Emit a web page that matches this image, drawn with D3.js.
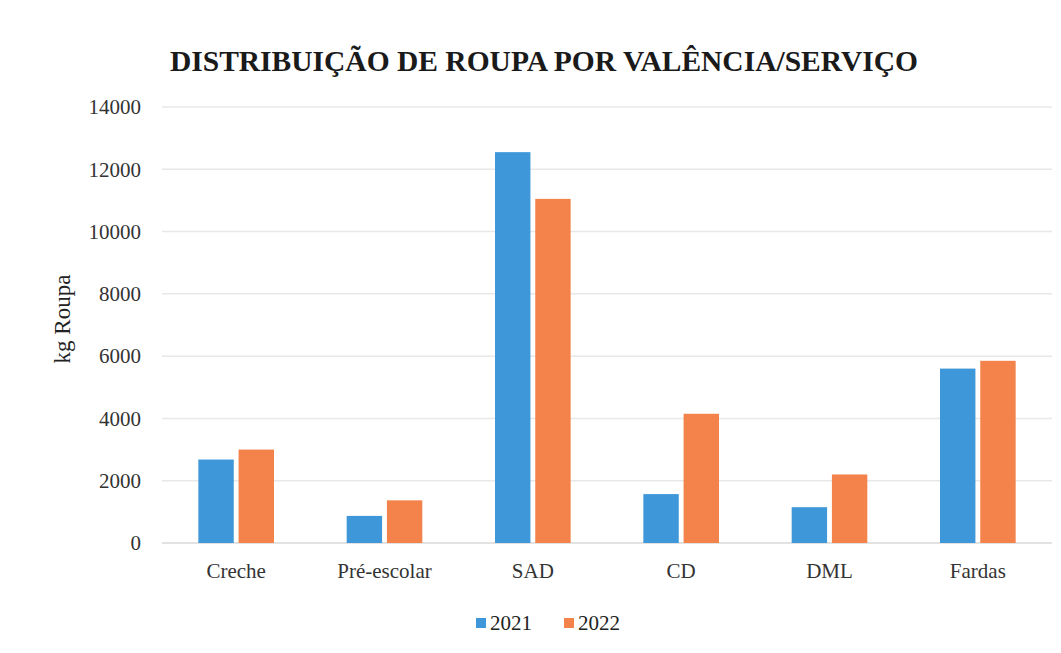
<!DOCTYPE html>
<html>
<head>
<meta charset="utf-8">
<script src="https://cdn.jsdelivr.net/npm/d3@7"></script>
<style>
  body { margin: 0; background: #fff; }
</style>
</head>
<body>
<div id="chart"></div>
<script>
const categories = ['Creche', 'Pré-escolar', 'SAD', 'CD', 'DML', 'Fardas']
const seriesNames = ['2021', '2022']
const values2021 = [2680, 870, 12550, 1570, 1150, 5600]
const values2022 = [3000, 1370, 11050, 4150, 2200, 5850]
const yTicks = [0, 2000, 4000, 6000, 8000, 10000, 12000, 14000]

const serif = "'Liberation Serif', 'DejaVu Serif', serif"
const width = 1061, height = 653
const margin = { top: 107, right: 9, bottom: 110, left: 162 }
const color = d3.scaleOrdinal().domain(seriesNames).range(['#3d97d8', '#f4834b'])

const svg = d3.select('#chart').append('svg')
  .attr('width', width)
  .attr('height', height)
  .style('font-family', serif)

const x = d3.scaleBand()
  .domain(categories)
  .range([margin.left, width - margin.right])
  .paddingInner(0.49)
  .paddingOuter(0.245)

const x1 = d3.scaleBand()
  .domain(seriesNames)
  .range([0, x.bandwidth()])
  .paddingInner(0.12)

const y = d3.scaleLinear()
  .domain([0, 14000])
  .range([height - margin.bottom, margin.top])

// gridlines
svg.append('g')
  .selectAll('line')
  .data(yTicks)
  .enter().append('line')
    .attr('x1', margin.left)
    .attr('x2', width - margin.right)
    .attr('y1', d => y(d))
    .attr('y2', d => y(d))
    .attr('stroke', d => d === 0 ? '#d9d9d9' : '#e8e8e8')
    .attr('stroke-width', 1.5)

// y axis labels
const yAxis = d3.axisLeft(y).tickValues(yTicks).tickFormat(d3.format('d')).tickSize(0).tickPadding(21)
svg.append('g')
  .attr('transform', 'translate(' + margin.left + ',0)')
  .call(yAxis)
  .attr('font-family', null)
  .call(g => g.select('.domain').remove())
  .selectAll('text')
    .style('font-size', '21px')
    .style('font-family', serif)
    .attr('fill', '#333')

// x axis labels
const xAxis = d3.axisBottom(x).tickSize(0).tickPadding(20)
svg.append('g')
  .attr('transform', 'translate(0,' + y(0) + ')')
  .call(xAxis)
  .attr('font-family', null)
  .call(g => g.select('.domain').remove())
  .selectAll('text')
    .style('font-size', '21px')
    .style('font-family', serif)
    .attr('fill', '#333')

// bars
const data = categories.map((c, i) => ({ cat: c, vals: [values2021[i], values2022[i]] }))

const groups = svg.append('g').selectAll('g')
  .data(data)
  .enter().append('g')
    .attr('transform', d => 'translate(' + x(d.cat) + ',0)')

groups.selectAll('rect')
  .data(d => d.vals.map((v, i) => ({ key: seriesNames[i], value: v })))
  .enter().append('rect')
    .attr('x', d => x1(d.key))
    .attr('width', x1.bandwidth())
    .attr('y', d => y(d.value))
    .attr('height', d => y(0) - y(d.value))
    .attr('fill', d => color(d.key))

// title
svg.append('text')
  .attr('x', 544)
  .attr('y', 71)
  .attr('text-anchor', 'middle')
  .style('font-family', serif)
  .style('font-size', '29.5px')
  .style('font-weight', 'bold')
  .attr('fill', '#1a1a1a')
  .text('DISTRIBUIÇÃO DE ROUPA POR VALÊNCIA/SERVIÇO')

// y axis title
svg.append('text')
  .attr('transform', 'translate(70,' + 319 + ') rotate(-90)')
  .attr('text-anchor', 'middle')
  .style('font-family', serif)
  .style('font-size', '23px')
  .attr('fill', '#222')
  .text('kg Roupa')

// legend
const legend = svg.append('g').attr('transform', 'translate(476,623)')
const item = legend.selectAll('g')
  .data(seriesNames)
  .enter().append('g')
    .attr('transform', (d, i) => 'translate(' + (i * 88) + ',0)')
item.append('rect')
  .attr('x', 0).attr('y', -5)
  .attr('width', 10).attr('height', 10)
  .attr('fill', d => color(d))
item.append('text')
  .attr('x', 14)
  .attr('dy', '0.35em')
  .style('font-family', serif)
  .style('font-size', '21px')
  .attr('fill', '#222')
  .text(d => d)
</script>
</body>
</html>
